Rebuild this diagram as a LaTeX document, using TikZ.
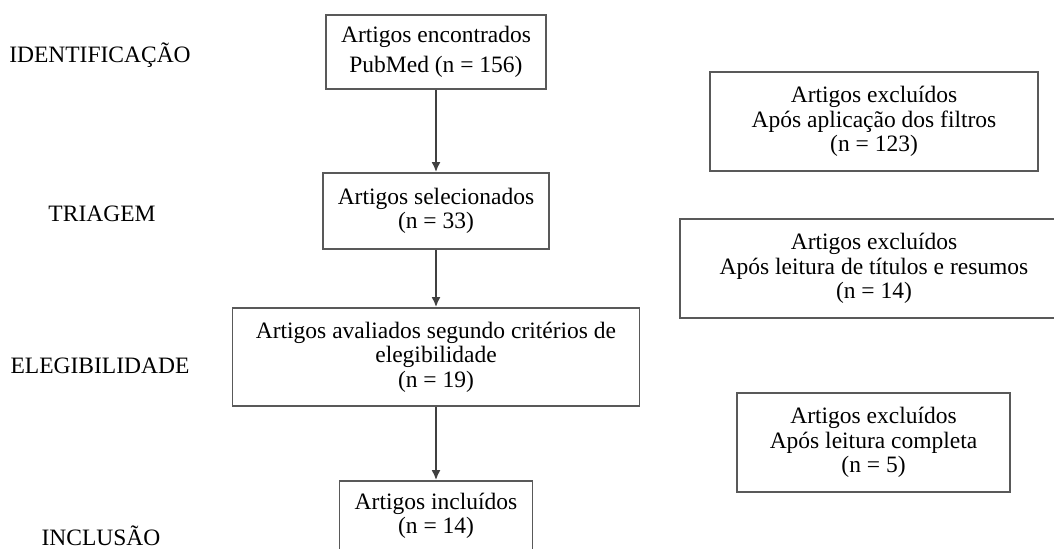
\documentclass[tikz,border=0pt]{standalone}
\usepackage{fontspec}
\setmainfont{Liberation Serif}
\usetikzlibrary{arrows.meta}

\tikzset{
    flowbox/.style={draw=black!65, line width=0.9pt, align=center, inner sep=0pt},
    stagelabel/.style={inner sep=0pt},
    flowarrow/.style={-{Latex[length=5pt,width=4.5pt]}, draw=black!75, line width=0.9pt}
}

\begin{document}
\begin{tikzpicture}[x=0.5pt, y=0.5pt, every node/.style={font=\fontsize{11.75pt}{12.25pt}\selectfont}]
    \useasboundingbox (0,0) rectangle (1054,548);

    % draw stage labels
    \node[stagelabel] (ident) at (100,493) {IDENTIFICAÇÃO};
    \node[stagelabel] (triag) at (102,334) {TRIAGEM};
    \node[stagelabel] (eleg)  at (100,182) {ELEGIBILIDADE};
    \node[stagelabel] (incl)  at (101,12)  {INCLUSÃO};

    % draw main boxes
    \node[flowbox, minimum width=110pt, minimum height=37pt] (found) at (436,496)
        {Artigos encontrados\\[2.5pt]PubMed (n = 156)};
    \node[flowbox, minimum width=113pt, minimum height=38pt] (selected) at (436,337)
        {Artigos selecionados\\(n = 33)};
    \node[flowbox, minimum width=203.5pt, minimum height=49pt] (assessed) at (436,191)
        {Artigos avaliados segundo critérios de\\elegibilidade\\(n = 19)};
    \node[flowbox, minimum width=96.5pt, minimum height=35pt] (included) at (436,32)
        {Artigos incluídos\\(n = 14)};

    % draw excluded boxes
    \node[flowbox, minimum width=164pt, minimum height=49.5pt] (excfilter) at (874,426.5)
        {Artigos excluídos\\Após aplicação dos filtros\\(n = 123)};
    \node[flowbox, minimum width=194pt, minimum height=49.5pt] (excabstract) at (874,279.5)
        {Artigos excluídos\\Após leitura de títulos e resumos\\(n = 14)};
    \node[flowbox, minimum width=136.5pt, minimum height=49.5pt] (excfull) at (873.5,105.5)
        {Artigos excluídos\\Após leitura completa\\(n = 5)};

    % draw arrows
    \foreach \a/\b in {found/selected, selected/assessed, assessed/included}
    \draw[flowarrow] (\a) -- (\b);
\end{tikzpicture}
\end{document}
